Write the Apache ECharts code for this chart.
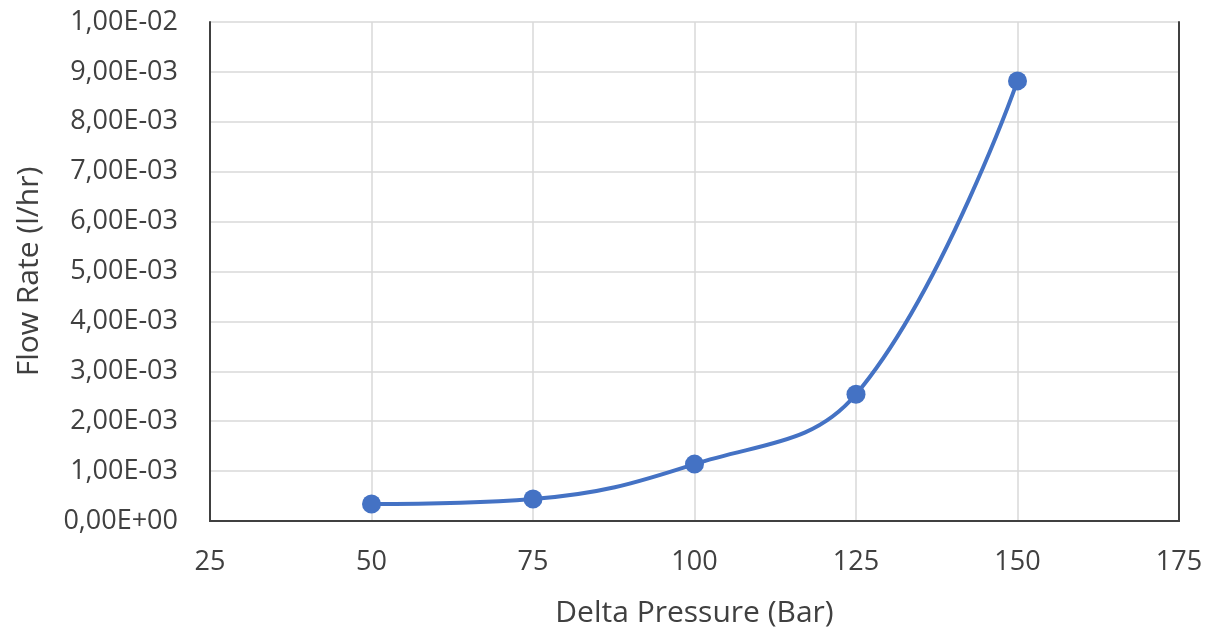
<!DOCTYPE html>
<html>
<head>
<meta charset="utf-8">
<script src="https://cdn.jsdelivr.net/npm/echarts@6/dist/echarts.min.js"></script>
<style>html,body{margin:0;padding:0;background:#fff}#c{width:1216px;height:635px}</style>
</head>
<body>
<div id="c"></div>
<script>
const pressures = [50, 75, 100, 125, 150];
const flowRates = [0.00034, 0.00044, 0.00114, 0.00254, 0.00882];
const xAxisName = 'Delta Pressure (Bar)';
const yAxisName = 'Flow Rate (l/hr)';

function fmtExp(v) {
  let s = Number(v).toExponential(2);
  let [m, e] = s.split('e');
  let sign = e[0] === '-' ? '-' : '+';
  let digits = e.replace(/[+-]/, '').padStart(2, '0');
  return m.replace('.', ',') + 'E' + sign + digits;
}

const font = 'Open Sans';
const frameLine = { show: true, lineStyle: { color: '#404040', width: 2 } };
const chart = echarts.init(document.getElementById('c'));
chart.setOption({
  animation: false,
  grid: { left: 210, right: 37, top: 22, bottom: 114, containLabel: false },
  xAxis: [{
    type: 'value', min: 25, max: 175, interval: 25,
    name: xAxisName, nameLocation: 'middle', nameGap: 77,
    nameTextStyle: { fontFamily: font, fontSize: 30, color: '#404040' },
    axisLine: frameLine,
    axisTick: { show: false },
    axisLabel: { fontFamily: font, fontSize: 27, color: '#404040', margin: 28 },
    splitLine: { show: true, lineStyle: { color: '#d9d9d9', width: 1.5 } }
  }, {
    type: 'value', position: 'top', min: 25, max: 175, interval: 25,
    axisLine: frameLine, axisTick: { show: false }, axisLabel: { show: false }, splitLine: { show: false }
  }],
  yAxis: [{
    type: 'value', min: 0, max: 0.01, interval: 0.001,
    name: yAxisName, nameLocation: 'middle', nameGap: 166, nameRotate: 90,
    nameTextStyle: { fontFamily: font, fontSize: 30, color: '#404040' },
    axisLine: frameLine,
    axisTick: { show: false },
    axisLabel: { fontFamily: font, fontSize: 27, color: '#404040', margin: 32, formatter: fmtExp },
    splitLine: { show: true, lineStyle: { color: '#d9d9d9', width: 1.5 } }
  }, {
    type: 'value', position: 'right', min: 0, max: 0.01, interval: 0.001,
    axisLine: frameLine, axisTick: { show: false }, axisLabel: { show: false }, splitLine: { show: false }
  }],
  series: [{
    type: 'line',
    xAxisIndex: 0, yAxisIndex: 0,
    data: pressures.map((p, i) => [p, flowRates[i]]),
    smooth: 0.4,
    symbol: 'circle', symbolSize: 19,
    lineStyle: { color: '#4472C4', width: 4 },
    itemStyle: { color: '#4472C4' }
  }]
});
</script>
</body>
</html>
